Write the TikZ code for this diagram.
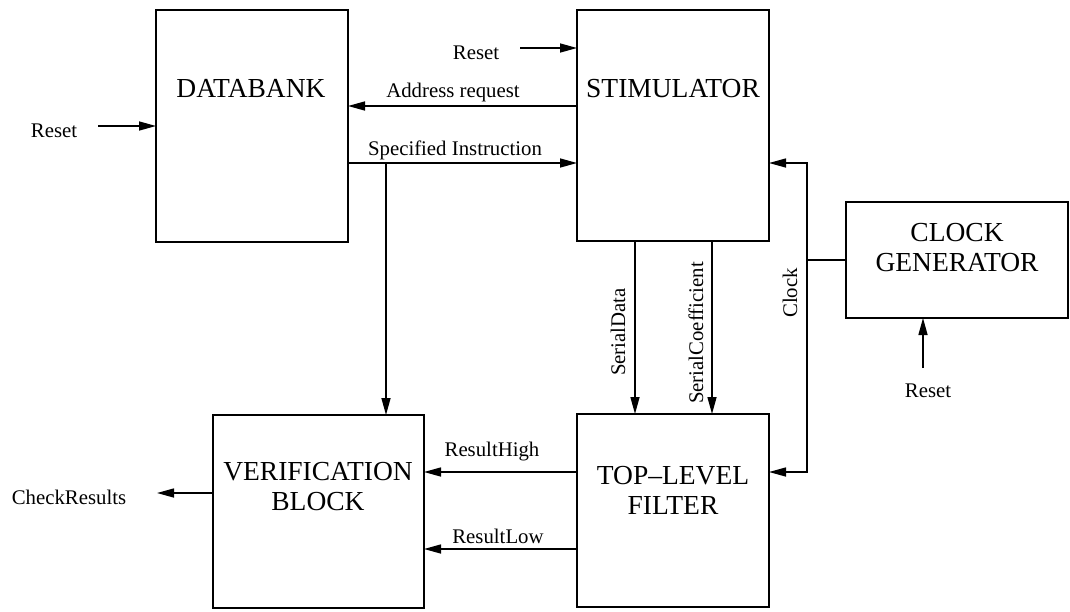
\documentclass[tikz,border=0pt]{standalone}
\usepackage{fontspec}
\setmainfont{Liberation Serif}
\usetikzlibrary{arrows.meta}
\tikzset{
  box/.style={draw, line width=1.6pt, inner sep=0pt, outer sep=0pt},
  ln/.style={line width=1.5pt},
  arr/.style={line width=1.5pt, -{Triangle[length=17pt,width=9pt]}},
  small/.style={font=\fontsize{20.8}{23}\selectfont, inner sep=0pt},
  big/.style={font=\fontsize{27.5}{30}\selectfont, align=center, inner sep=0pt},
}
\begin{document}
\begin{tikzpicture}[x=1pt,y=-1pt]
\useasboundingbox (0,0) rectangle (1070,611);
% blocks
\node[box, minimum width=192pt, minimum height=232pt] (db) at (252,126) {};
\node[box, minimum width=192pt, minimum height=231pt] (st) at (673,125.5) {};
\node[box, minimum width=222pt, minimum height=116pt] (cg) at (957,260) {};
\node[box, minimum width=211pt, minimum height=193pt] (vb) at (318.5,511.5) {};
\node[box, minimum width=192pt, minimum height=193pt] (tf) at (673,510.5) {};
% block titles
\node[big, anchor=base] (tdb) at (251,97) {DATABANK};
\node[big, anchor=base] (tst) at (673,97) {STIMULATOR};
\node[big] (tcg) at (957,248) {CLOCK\\GENERATOR};
\node[big] (tvb) at (318,487) {VERIFICATION\\BLOCK};
\node[big] (ttf) at (673,490) {TOP--LEVEL\\FILTER};
% labels
\node[small, anchor=base] (lrl) at (54,137) {Reset};
\node[small, anchor=base] (lrt) at (476,59) {Reset};
\node[small, anchor=base] (lrb) at (928,397) {Reset};
\node[small, anchor=base] (lar) at (453,97) {Address request};
\node[small, anchor=base] (lsi) at (455,155) {Specified Instruction};
\node[small, anchor=base] (lcr) at (69,504) {CheckResults};
\node[small, anchor=base] (lrh) at (492,456) {ResultHigh};
\node[small, anchor=base] (lrlo) at (498,543) {ResultLow};
\node[small, rotate=90] (lsd) at (618,332) {SerialData};
\node[small, rotate=90] (lsc) at (696,333) {SerialCoefficient};
\node[small, rotate=90] (lck) at (790,293) {Clock};
% free ends and junctions
\coordinate (crl) at (98,126);
\coordinate (crt) at (520,48);
\coordinate (crb) at (923,368);
\coordinate (ccr) at (157,493);
\coordinate (br) at (386,163);
\coordinate (cj) at (807,260);
% connectors
\draw[arr] (crl) -- (db.west |- crl);
\draw[arr] (crt) -- (st.west |- crt);
\draw[arr] (st.west |- 0,106) -- (db.east |- 0,106);
\draw[arr] (db.east |- br) -- (st.west |- br);
\draw[arr] (br) -- (vb.north -| br);
\draw[ln] (cg.west) -- (cj);
\draw[arr] (cj) |- (st.east |- 0,163);
\draw[arr] (cj) |- (tf.east |- 0,472);
\draw[arr] (st.south -| 635,0) -- (tf.north -| 635,0);
\draw[arr] (st.south -| 712,0) -- (tf.north -| 712,0);
\draw[arr] (tf.west |- 0,472) -- (vb.east |- 0,472);
\draw[arr] (tf.west |- 0,549) -- (vb.east |- 0,549);
\draw[arr] (vb.west |- ccr) -- (ccr);
\draw[arr] (crb) -- (cg.south -| crb);
\end{tikzpicture}
\end{document}
